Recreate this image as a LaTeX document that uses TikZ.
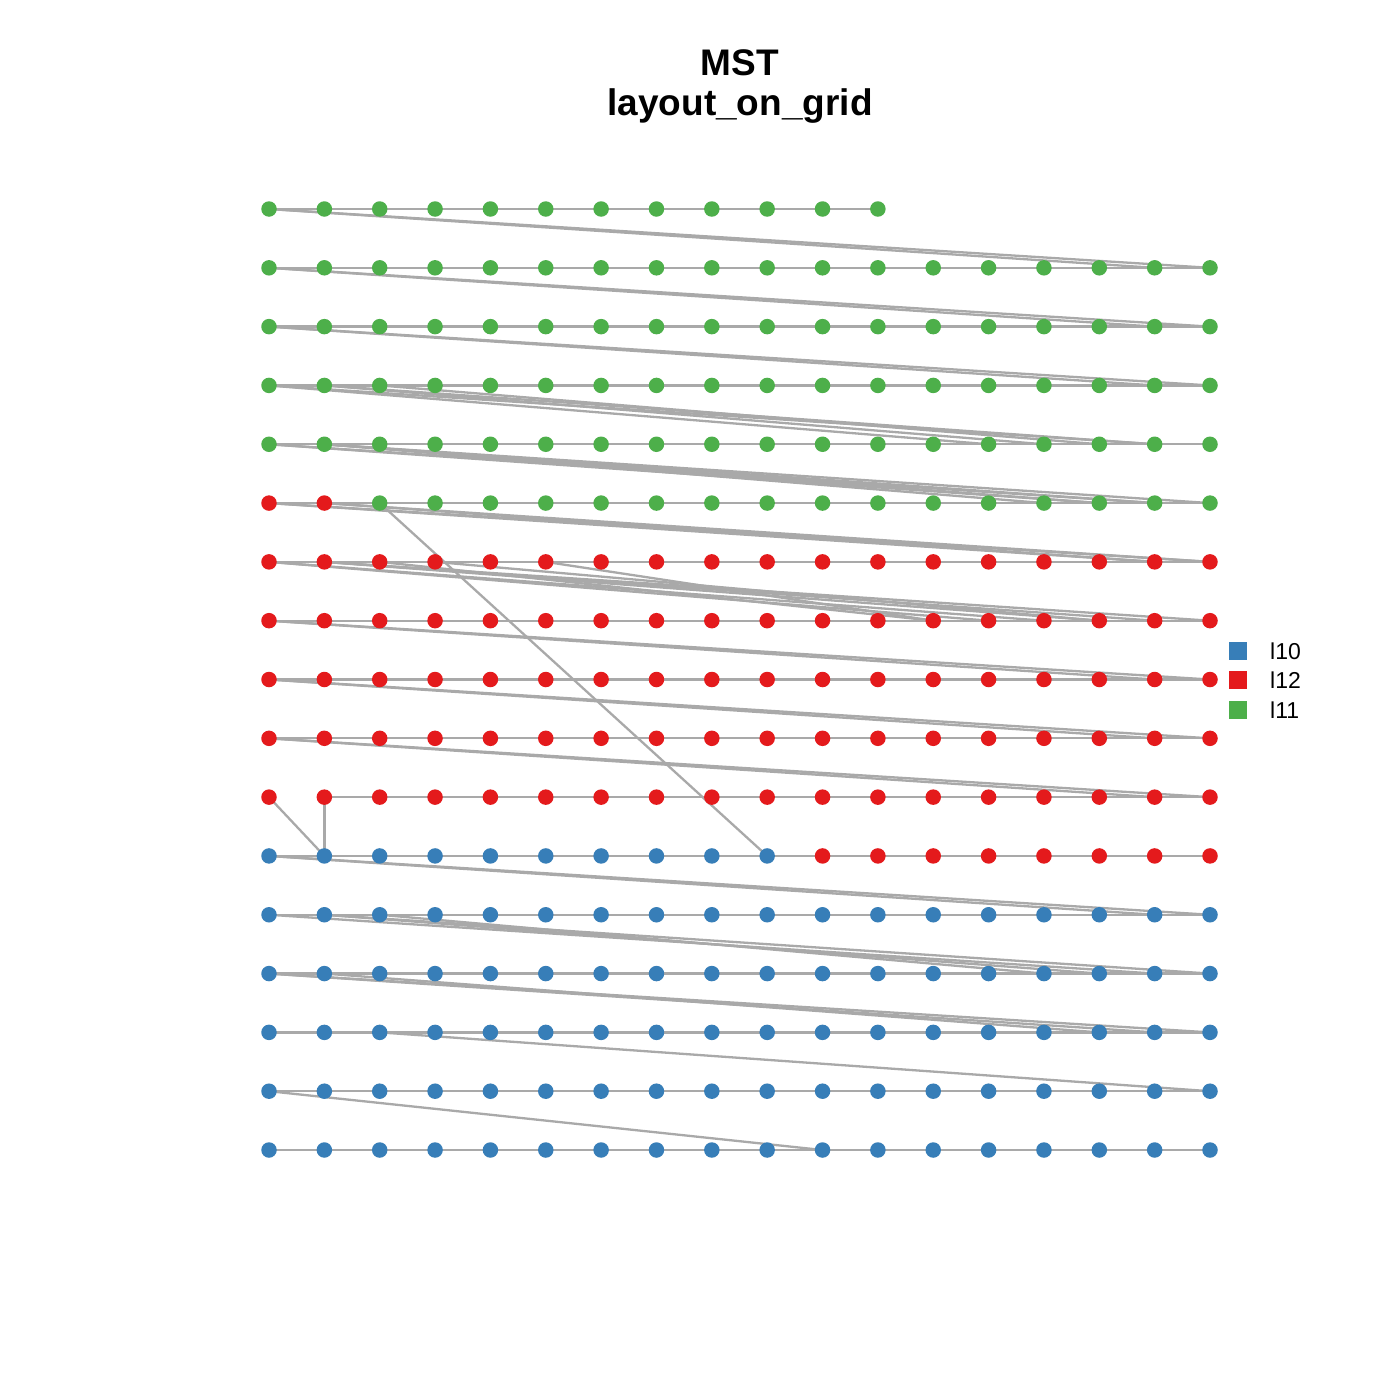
\documentclass[tikz,border=0pt]{standalone}
\usepackage{fontspec}
\setmainfont{Liberation Sans}
\begin{document}
\begin{tikzpicture}[x=1pt,y=-1pt,
  vtx/.style={circle,inner sep=0pt,minimum size=15.5pt},
  edg/.style={draw=edgegray,line width=2.3pt},
  lgbox/.style={inner sep=0pt,minimum size=18pt},
  lgtext/.style={anchor=west,inner sep=0pt,font=\fontsize{23}{26}\selectfont}]
\definecolor{cblue}{HTML}{377EB8}
\definecolor{cred}{HTML}{E41A1C}
\definecolor{cgreen}{HTML}{4DAF4A}
\definecolor{edgegray}{HTML}{A9A9A9}
\useasboundingbox (0,0) rectangle (1400,1400);
\fill[white] (0,0) rectangle (1400,1400);
\node[font=\bfseries\fontsize{37}{40}\selectfont,align=center] (title) at (740,87) {MST\\layout\_on\_grid};
% coordinates
\foreach \i in {0,...,299}{
  \pgfmathtruncatemacro{\r}{int(\i/18)}
  \pgfmathtruncatemacro{\c}{\i-18*\r}
  \coordinate (p\i) at ({269+\c*55.353},{1150-\r*58.8125});
}
% horizontal chain edges
\foreach \i in {0,...,298}{
  \pgfmathtruncatemacro{\c}{\i-18*int(\i/18)}
  \ifnum\c<17 \ifnum\i=108 \else \draw[edg] (p\i) -- (p\the\numexpr\i+1\relax); \fi\fi
}
% other edges
\foreach \a/\b in {288/287,288/286,270/269,270/268,252/251,252/250,
  234/229,235/230,235/232,236/231,234/232,
  216/214,216/213,217/214,217/212,217/213,217/215,
  198/197,198/196,199/196,199/197,
  180/175,180/176,181/177,181/178,182/174,183/177,185/174,181/179,
  162/161,162/160,144/143,144/142,126/125,126/124,
  108/91,109/91,200/99,
  90/89,90/88,72/70,73/69,73/71,74/68,
  54/53,54/52,55/51,
  38/35,18/10}{
  \draw[edg] (p\a) -- (p\b);
}
% vertices
\foreach \i in {0,...,299}{
  \ifnum\i<100 \def\col{cblue}\else\ifnum\i<200 \def\col{cred}\else\def\col{cgreen}\fi\fi
  \node[vtx,fill=\col] (n\i) at (p\i) {};
}
% legend
\node[lgbox,fill=cblue] (lb1) at (1238,651) {};
\node[lgbox,fill=cred] (lb2) at (1238,680) {};
\node[lgbox,fill=cgreen] (lb3) at (1238,710) {};
\node[lgtext] (lt1) at (1270,651) {l10};
\node[lgtext] (lt2) at (1270,680) {l12};
\node[lgtext] (lt3) at (1270,710) {l11};
\end{tikzpicture}
\end{document}
